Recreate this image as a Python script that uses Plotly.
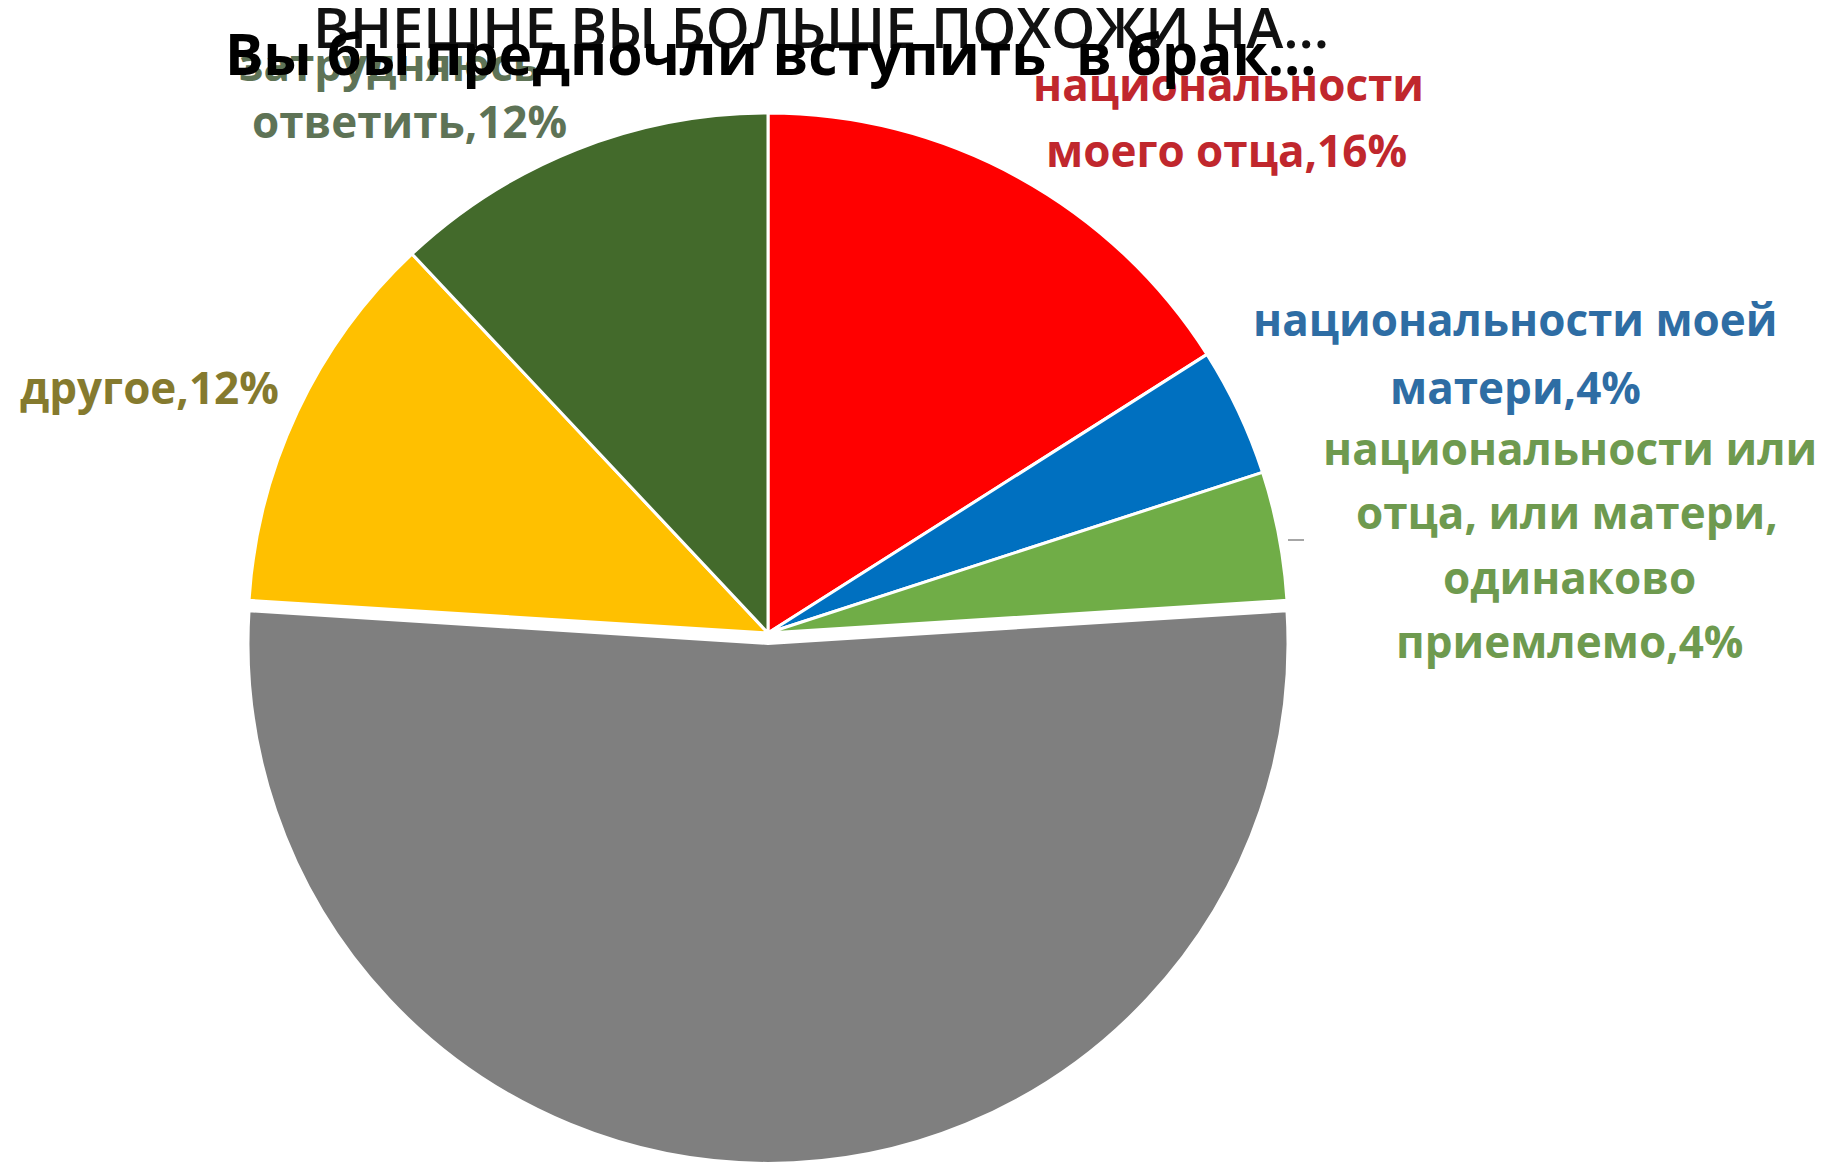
import plotly.graph_objects as go

# ---- data ----
categories = [
    "национальности моего отца",
    "национальности моей матери",
    "национальности или отца, или матери, одинаково приемлемо",
    "без подписи",
    "другое",
    "затрудняюсь ответить",
]
values = [16, 4, 4, 52, 12, 12]
label_lines = [
    ["национальности", "моего отца"],
    ["национальности моей", "матери"],
    ["национальности или", "отца, или матери,", "одинаково", "приемлемо"],
    None,
    ["другое"],
    ["затрудняюсь", "ответить"],
]
slice_colors = ["#FF0000", "#0070C0", "#70AD47", "#7F7F7F", "#FFC000", "#436A2B"]
label_colors = ["#C0272D", "#2E6DA4", "#6E9A4F", None, "#857A2E", "#5E7356"]
# per-line label centres (pixels of the page)
label_pos = [
    [(1228, 84), (1226, 150)],
    [(1515, 319), (1515, 387)],
    [(1570, 448), (1567, 512), (1569, 577), (1569, 641)],
    None,
    [(149, 387)],
    [(389, 64), (409, 121)],
]

title_main = "Вы бы предпочли вступить\u00a0 в брак..."
title_back = "ВНЕШНЕ ВЫ БОЛЬШЕ ПОХОЖИ НА..."

W, H = 1839, 1165
OFF = 8  # page body margin
FONT = "Open Sans, Noto Sans, DejaVu Sans, sans-serif"


def px(x):
    return (x - OFF) / W


def py(y):
    return 1 - (y - OFF) / H


cx, cy, r, pull = 768, 633, 520, 0.02
half = r * (1 + pull)

fig = go.Figure(
    go.Pie(
        labels=categories,
        values=values,
        sort=False,
        direction="clockwise",
        rotation=0,
        pull=[0, 0, 0, pull, 0, 0],
        marker=dict(colors=slice_colors, line=dict(color="white", width=3)),
        textinfo="none",
        hoverinfo="label+percent",
        showlegend=False,
        domain=dict(
            x=[px(cx - half), px(cx + half)],
            y=[py(cy + half), py(cy - half)],
        ),
    )
)

annotations = []
for lines, v, col, pos in zip(label_lines, values, label_colors, label_pos):
    if lines is None:
        continue
    texts = lines[:-1] + [f"{lines[-1]},{v}%"]
    for t, (x, y) in zip(texts, pos):
        annotations.append(
            dict(
                text=f"<b>{t}</b>",
                x=px(x),
                y=py(y),
                xref="paper",
                yref="paper",
                xanchor="center",
                yanchor="middle",
                showarrow=False,
                font=dict(family=FONT, size=44, color=col),
            )
        )

annotations.append(
    dict(
        text=title_back,
        x=px(821),
        y=py(26),
        xref="paper",
        yref="paper",
        xanchor="center",
        yanchor="middle",
        showarrow=False,
        font=dict(family=FONT, size=56, color="#111111", weight=600),
    )
)
annotations.append(
    dict(
        text=f"<b>{title_main}</b>",
        x=px(771),
        y=py(53),
        xref="paper",
        yref="paper",
        xanchor="center",
        yanchor="middle",
        showarrow=False,
        font=dict(family=FONT, size=57, color="#000000"),
    )
)

fig.update_layout(
    width=W,
    height=H,
    margin=dict(l=0, r=0, t=0, b=0),
    paper_bgcolor="white",
    plot_bgcolor="white",
    annotations=annotations,
    shapes=[
        dict(
            type="line",
            xref="paper",
            yref="paper",
            x0=px(1288),
            x1=px(1304),
            y0=py(540),
            y1=py(540),
            line=dict(color="#A6A6A6", width=2),
        )
    ],
)

fig.write_html("out.html")
